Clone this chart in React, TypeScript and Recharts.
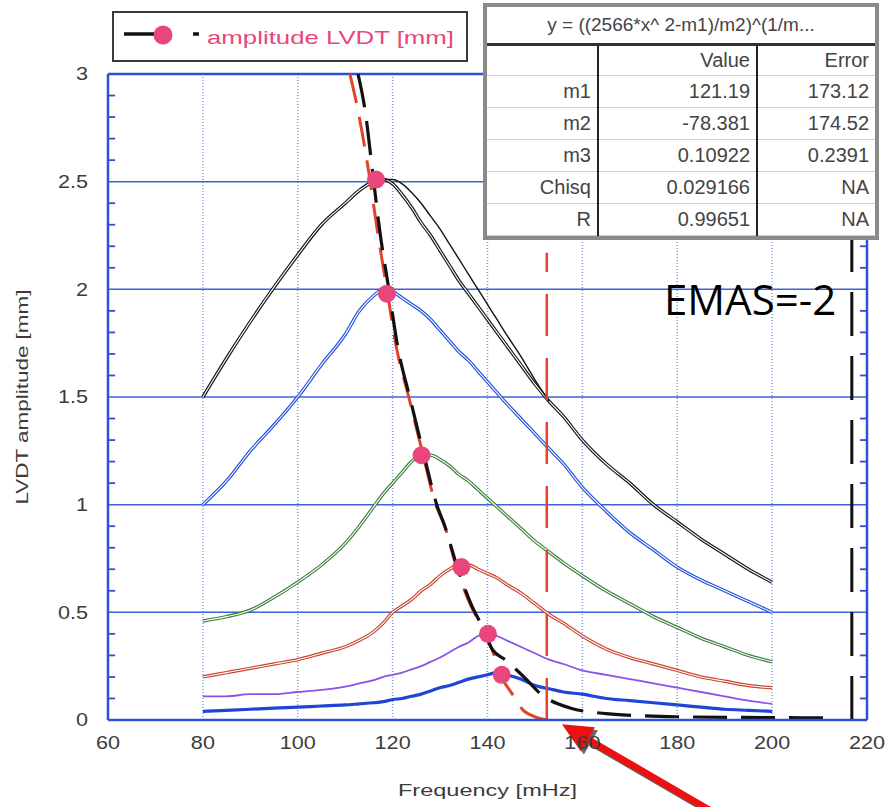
import React from "react";
import { LineChart, Line, XAxis, YAxis, CartesianGrid, ReferenceLine, Legend } from "recharts";

// frequency grid (mHz) shared by the measured sweeps
const FREQ = [80, 85, 90, 95, 100, 105, 110, 113, 116, 118, 120, 122, 124, 126, 128, 130, 132, 134, 136, 138, 140, 142, 144, 147, 150, 153, 156, 160, 165, 170, 175, 180, 185, 190, 195, 200];

const BLACK = [1.5, 1.68, 1.85, 2.01, 2.16, 2.3, 2.4, 2.46, 2.5, 2.51, 2.49, 2.44, 2.38, 2.31, 2.25, 2.18, 2.11, 2.04, 1.98, 1.92, 1.86, 1.8, 1.74, 1.65, 1.56, 1.48, 1.41, 1.3, 1.19, 1.1, 1.0, 0.92, 0.84, 0.77, 0.7, 0.64];
const BLUE = [1.0, 1.11, 1.25, 1.37, 1.5, 1.65, 1.79, 1.9, 1.97, 2.0, 1.99, 1.96, 1.93, 1.9, 1.86, 1.81, 1.76, 1.71, 1.67, 1.62, 1.57, 1.52, 1.47, 1.4, 1.33, 1.26, 1.19, 1.08, 0.97, 0.87, 0.79, 0.71, 0.65, 0.6, 0.55, 0.5];
const GREEN = [0.46, 0.48, 0.51, 0.57, 0.64, 0.72, 0.82, 0.9, 0.99, 1.05, 1.1, 1.15, 1.2, 1.23, 1.23, 1.21, 1.18, 1.14, 1.11, 1.07, 1.03, 0.99, 0.95, 0.89, 0.83, 0.78, 0.73, 0.67, 0.6, 0.54, 0.48, 0.43, 0.38, 0.34, 0.3, 0.27];
const RED = [0.2, 0.22, 0.24, 0.26, 0.28, 0.31, 0.34, 0.37, 0.41, 0.45, 0.5, 0.53, 0.56, 0.6, 0.63, 0.67, 0.7, 0.72, 0.72, 0.7, 0.68, 0.66, 0.63, 0.59, 0.54, 0.49, 0.45, 0.39, 0.33, 0.29, 0.26, 0.23, 0.2, 0.18, 0.16, 0.15];
const PURPLE = [0.11, 0.11, 0.12, 0.12, 0.13, 0.14, 0.155, 0.17, 0.185, 0.2, 0.21, 0.22, 0.235, 0.25, 0.27, 0.29, 0.315, 0.34, 0.36, 0.39, 0.4, 0.39, 0.37, 0.34, 0.31, 0.28, 0.26, 0.23, 0.21, 0.19, 0.17, 0.15, 0.13, 0.11, 0.09, 0.075];
const BLUE_LOW = [0.04, 0.045, 0.05, 0.055, 0.06, 0.065, 0.07, 0.075, 0.08, 0.085, 0.095, 0.1, 0.11, 0.12, 0.135, 0.15, 0.16, 0.175, 0.19, 0.2, 0.21, 0.22, 0.21, 0.19, 0.16, 0.145, 0.13, 0.12, 0.1, 0.09, 0.08, 0.07, 0.06, 0.05, 0.045, 0.04];

// second (down) sweep of the black curve, where it splits off
const BLACK2_FREQ = [118, 120, 122, 124, 126, 128, 130, 132, 134, 136, 138, 140, 142, 144, 147, 150, 153];
const BLACK2 = [2.51, 2.51, 2.49, 2.45, 2.4, 2.34, 2.28, 2.21, 2.14, 2.07, 2.0, 1.93, 1.86, 1.79, 1.69, 1.58, 1.48];

// fitted backbone curves (dashed)
const FIT_BLACK_F = [112.7, 114.2, 115.8, 117.3, 119.2, 121.1, 123.6, 126.4, 129.3, 131, 133.5, 136.7, 138.4, 141.1, 143.7, 148.3, 151, 157.4, 165, 180, 212];
const FIT_BLACK_A = [3.0, 2.83, 2.54, 2.27, 2.0, 1.73, 1.5, 1.25, 1.0, 0.9, 0.72, 0.53, 0.455, 0.325, 0.28, 0.186, 0.125, 0.056, 0.03, 0.015, 0.01];
const FIT_RED_F = [111.0, 112.7, 115.0, 116.8, 118.8, 120.8, 123.4, 126.2, 129.1, 131, 133.3, 136.5, 138.3, 141, 143.2, 145.1, 147.5, 150, 152.5];
const FIT_RED_A = [3.0, 2.83, 2.54, 2.27, 2.0, 1.73, 1.5, 1.25, 1.0, 0.9, 0.72, 0.53, 0.455, 0.325, 0.19, 0.125, 0.046, 0.015, 0];

// peak amplitudes (pink dots)
const PEAK_F = [116.5, 118.8, 126.1, 134.5, 140.1, 143.0];
const PEAK_A = [2.51, 1.98, 1.23, 0.71, 0.4, 0.21];

const X_TICKS = [60, 80, 100, 120, 140, 160, 180, 200, 220];
const X_GRID = [80, 100, 120, 140, 160, 180, 200];
const Y_TICKS = [0, 0.5, 1, 1.5, 2, 2.5, 3];
const Y_MINOR = [0.1, 0.2, 0.3, 0.4, 0.6, 0.7, 0.8, 0.9, 1.1, 1.2, 1.3, 1.4, 1.6, 1.7, 1.8, 1.9, 2.1, 2.2, 2.3, 2.4, 2.6, 2.7, 2.8, 2.9];

const FIT_ROWS = ["m1", "m2", "m3", "Chisq", "R"];
const FIT_VALUES = ["121.19", "-78.381", "0.10922", "0.029166", "0.99651"];
const FIT_ERRORS = ["173.12", "174.52", "0.2391", "NA", "NA"];

const FONT = '"Liberation Sans", Arial, sans-serif';
const TXT = "#3c3c3c";
const AXIS_BLUE = "#2b52d4";
const GRID_BLUE = "#3d62da";
const DOT_BLUE = "#7f9aea";
const PINK = "#e8467c";

const pts = (fs: number[], as: number[]) => fs.map((f, i) => ({ f, a: as[i] }));

function LeftTick(props: any) {
  const { x, y, payload } = props;
  return (
    <text transform={`translate(${x - 20},${y}) scale(1.2,1)`} textAnchor="end" dy="0.36em" fontSize={18} fill={TXT} fontFamily={FONT}>
      {payload.value}
    </text>
  );
}

function BottomTick(props: any) {
  const { x, y, payload } = props;
  return (
    <text transform={`translate(${x},${y + 23}) scale(1.2,1)`} textAnchor="middle" dy="0.36em" fontSize={18} fill={TXT} fontFamily={FONT}>
      {payload.value}
    </text>
  );
}

function Arrow(props: any) {
  const { x1, y1, x2, y2 } = props;
  const ang = Math.atan2(y2 - y1, x2 - x1);
  const len = 30;
  const w = 14;
  const bx = x2 - len * Math.cos(ang);
  const by = y2 - len * Math.sin(ang);
  const px = -Math.sin(ang) * w;
  const py = Math.cos(ang) * w;
  const head = `${x2},${y2} ${bx + px},${by + py} ${bx - px},${by - py}`;
  return (
    <g>
      <g transform="translate(3,3)" opacity={0.75}>
        <line x1={x1} y1={y1} x2={bx} y2={by} stroke="#333" strokeWidth={7} />
        <polygon points={head} fill="#333" />
      </g>
      <line x1={x1} y1={y1} x2={bx} y2={by} stroke="#ee1010" strokeWidth={7} />
      <polygon points={head} fill="#ee1010" />
    </g>
  );
}

function LegendBox() {
  return (
    <svg width={356} height={51} style={{ display: "block" }}>
      <rect x={1} y={1} width={354} height={49} fill="#fff" stroke="#3a3a3a" strokeWidth={2} />
      <line x1={12} x2={47} y1={23} y2={23} stroke="#111" strokeWidth={3.5} />
      <circle cx={51} cy={24} r={9.5} fill={PINK} />
      <line x1={81} x2={87} y1={23} y2={23} stroke="#111" strokeWidth={3.5} />
      <text x={95} y={33} fontSize={19} fill={PINK} fontFamily={FONT} textLength={247} lengthAdjust="spacingAndGlyphs">
        amplitude LVDT [mm]
      </text>
    </svg>
  );
}

function FitTable() {
  const cell: React.CSSProperties = {
    textAlign: "right",
    padding: "0 6px 0 0",
    borderBottom: "1px solid #cfcfcf",
    height: 31,
    fontSize: 20,
    color: "#444",
  };
  const div = { borderLeft: "2px solid #222" };
  return (
    <div
      style={{
        position: "absolute",
        left: 483,
        top: 3,
        width: 396,
        height: 237,
        boxSizing: "border-box",
        border: "4px solid #8a8a8a",
        background: "#fff",
        fontFamily: FONT,
      }}
    >
      <div style={{ height: 36, lineHeight: "36px", textAlign: "center", fontSize: 19, color: "#444", borderBottom: "3px solid #333" }}>
        y = ((2566*x^ 2-m1)/m2)^(1/m...
      </div>
      <table style={{ width: "100%", borderCollapse: "collapse", tableLayout: "fixed" }}>
        <colgroup>
          <col style={{ width: 111 }} />
          <col style={{ width: 159 }} />
          <col />
        </colgroup>
        <tbody>
          <tr>
            <td style={{ ...cell, height: 29 }} />
            <td style={{ ...cell, ...div, height: 29 }}>Value</td>
            <td style={{ ...cell, ...div, height: 29 }}>Error</td>
          </tr>
          {FIT_ROWS.map((r, i) => (
            <tr key={r}>
              <td style={cell}>{r}</td>
              <td style={{ ...cell, ...div }}>{FIT_VALUES[i]}</td>
              <td style={{ ...cell, ...div }}>{FIT_ERRORS[i]}</td>
            </tr>
          ))}
        </tbody>
      </table>
    </div>
  );
}

export default function App() {
  const curves = [
    { key: "black", data: pts(FREQ, BLACK), color: "#151515" },
    { key: "blue", data: pts(FREQ, BLUE), color: "#2150dc" },
    { key: "green", data: pts(FREQ, GREEN), color: "#3d7f3a" },
    { key: "red", data: pts(FREQ, RED), color: "#c9452e" },
  ];
  return (
    <div style={{ position: "absolute", left: 0, top: 0, width: 891, height: 807, background: "#fff" }}>
      <LineChart width={891} height={807} margin={{ top: 74, right: 24, left: 0, bottom: 0 }}>
        <CartesianGrid horizontal={false} vertical verticalValues={X_GRID} stroke={DOT_BLUE} strokeDasharray="1 2" strokeWidth={1.5} />
        <CartesianGrid horizontal vertical={false} horizontalValues={Y_TICKS} stroke={GRID_BLUE} strokeWidth={1.5} />
        <XAxis
          dataKey="f"
          type="number"
          domain={[60, 220]}
          ticks={X_TICKS}
          interval={0}
          height={87}
          tickSize={0}
          tickMargin={0}
          tickLine={false}
          tick={<BottomTick />}
          axisLine={{ stroke: AXIS_BLUE, strokeWidth: 2.5 }}
          allowDataOverflow
          label={(p: any) => {
            const vb = p.viewBox;
            return (
              <text x={vb.x + vb.width / 2} y={790} textAnchor="middle" dy="0.36em" fontSize={17} fill={TXT} fontFamily={FONT} textLength={179} lengthAdjust="spacingAndGlyphs">
                Frequency  [mHz]
              </text>
            );
          }}
        />
        <YAxis
          type="number"
          domain={[0, 3]}
          ticks={Y_TICKS}
          interval={0}
          width={108}
          tickSize={0}
          tickMargin={0}
          tickLine={false}
          tick={<LeftTick />}
          axisLine={{ stroke: AXIS_BLUE, strokeWidth: 2.5 }}
          allowDataOverflow
          label={(p: any) => {
            const vb = p.viewBox;
            const cy = vb.y + vb.height / 2;
            return (
              <text x={22} y={cy} transform={`rotate(-90, 22, ${cy})`} textAnchor="middle" dy="0.36em" fontSize={17} fill={TXT} fontFamily={FONT} textLength={215} lengthAdjust="spacingAndGlyphs">
                LVDT amplitude [mm]
              </text>
            );
          }}
        />
        <ReferenceLine y={3} stroke={AXIS_BLUE} strokeWidth={2.5} />
        <ReferenceLine x={220} stroke={AXIS_BLUE} strokeWidth={2.5} />
        {Y_MINOR.map((v) => (
          <ReferenceLine key={"l" + v} segment={[{ x: 60, y: v }, { x: 61.5, y: v }]} stroke={AXIS_BLUE} strokeWidth={1.8} />
        ))}
        {Y_MINOR.map((v) => (
          <ReferenceLine key={"r" + v} segment={[{ x: 218.5, y: v }, { x: 220, y: v }]} stroke={AXIS_BLUE} strokeWidth={1.8} />
        ))}

        {curves.map((c) => (
          <Line key={c.key} data={c.data} dataKey="a" type="monotone" stroke={c.color} strokeWidth={3.4} dot={false} isAnimationActive={false} />
        ))}
        {curves.map((c) => (
          <Line key={c.key + "-in"} data={c.data} dataKey="a" type="monotone" stroke="#fff" strokeWidth={1.1} dot={false} isAnimationActive={false} />
        ))}
        <Line data={pts(BLACK2_FREQ, BLACK2)} dataKey="a" type="monotone" stroke="#151515" strokeWidth={1.4} dot={false} isAnimationActive={false} />
        <Line data={pts(FREQ, PURPLE)} dataKey="a" type="monotone" stroke="#8a52e6" strokeWidth={1.8} dot={false} isAnimationActive={false} />
        <Line data={pts(FREQ, BLUE_LOW)} dataKey="a" type="monotone" stroke="#1f45d8" strokeWidth={3.2} dot={false} isAnimationActive={false} />

        <Line data={pts(FIT_RED_F, FIT_RED_A)} dataKey="a" type="monotone" stroke="#e0452c" strokeWidth={3} strokeDasharray="30 14" dot={false} isAnimationActive={false} />
        <Line data={pts(FIT_BLACK_F, FIT_BLACK_A)} dataKey="a" type="monotone" stroke="#111" strokeWidth={3.2} strokeDasharray="34 14" dot={false} isAnimationActive={false} />
        <ReferenceLine segment={[{ x: 152.5, y: 0 }, { x: 152.5, y: 2.17 }]} stroke="#e0452c" strokeWidth={2.5} strokeDasharray="42 22" />
        <ReferenceLine x={216.8} stroke="#111" strokeWidth={3} strokeDasharray="44 20" />

        <Line data={pts(PEAK_F, PEAK_A)} dataKey="a" stroke="none" dot={{ r: 9, fill: PINK, stroke: "none" }} isAnimationActive={false} />

        <ReferenceLine segment={[{ x: 190, y: -0.46 }, { x: 155.7, y: -0.02 }]} ifOverflow="visible" shape={<Arrow />} />

        <Legend
          layout="horizontal"
          verticalAlign="middle"
          align="center"
          content={() => <LegendBox />}
          wrapperStyle={{ left: 112, top: 11, width: 356, height: 51 }}
        />
      </LineChart>
      <FitTable />
      <div
        style={{
          position: "absolute",
          left: 664,
          top: 279,
          fontFamily: '"Open Sans", "Noto Sans", sans-serif',
          fontSize: 42,
          lineHeight: "40px",
          color: "#000",
        }}
      >
        EMAS=-2
      </div>
    </div>
  );
}
